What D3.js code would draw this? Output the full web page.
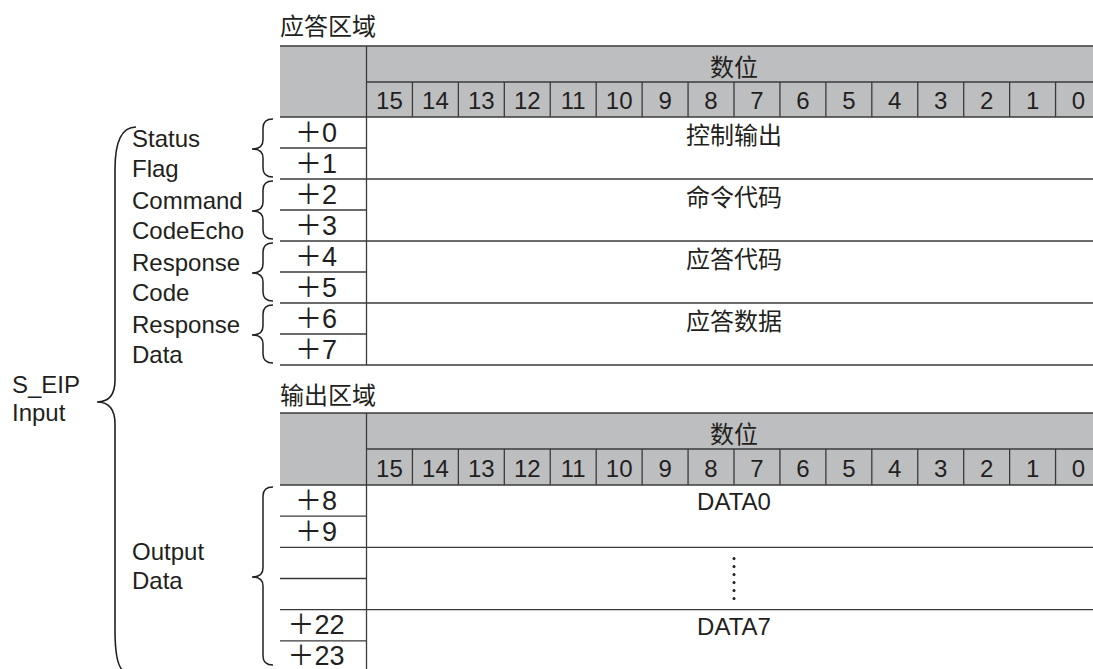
<!DOCTYPE html>
<html>
<head>
<meta charset="utf-8">
<script src="https://cdn.jsdelivr.net/npm/d3@7/dist/d3.min.js"></script>
<style>
  html, body { margin: 0; padding: 0; background: #fff; }
  svg { display: block; }
</style>
</head>
<body>
<svg id="chart" width="1093" height="669"></svg>
<script>
// ---------- data ----------
const bits = [15, 14, 13, 12, 11, 10, 9, 8, 7, 6, 5, 4, 3, 2, 1, 0];
const headerLabel = "数位";
const areaTitles = ["应答区域", "输出区域"];
const respOffsets = ["＋0", "＋1", "＋2", "＋3", "＋4", "＋5", "＋6", "＋7"];
const respFields = ["控制输出", "命令代码", "应答代码", "应答数据"];
const respGroups = [["Status", "Flag"], ["Command", "CodeEcho"], ["Response", "Code"], ["Response", "Data"]];
const outOffsets = ["＋8", "＋9", "", "", "＋22", "＋23"];
const outFields = ["DATA0", "", "DATA7"];
const outGroup = ["Output", "Data"];
const rootLabel = ["S_EIP", "Input"];

// ---------- setup ----------
const svg = d3.select("#chart");
const INK = "#231f20";
const LINE = "#3a3a3a";
const GRAY = "#bdbec0";
const LATIN = "'Liberation Sans', Arial, Helvetica, sans-serif";
const CJK = "'Noto Sans CJK SC', 'Noto Sans CJK JP', sans-serif";
const MIXED = "'Liberation Sans', Arial, 'Noto Sans CJK SC', sans-serif";

const xLeft = 280, xSplit = 366.5, xRight = 1101.5;
const x = d3.scaleBand().domain(bits).range([xSplit, xRight]);
const xMid = (xSplit + xRight) / 2;

function line(g, x1, y1, x2, y2, w) {
  g.append("line").attr("x1", x1).attr("y1", y1).attr("x2", x2).attr("y2", y2)
    .attr("stroke", LINE).attr("stroke-width", w || 1.3);
}

function bracePath(xEnd, xBody, xTip, yTop, yMid, yBot, rEnd, rTip, xEndBot) {
  const xb = xEndBot === undefined ? xEnd : xEndBot;
  return `M${xEnd},${yTop} Q${xBody},${yTop} ${xBody},${yTop + rEnd}` +
    ` L${xBody},${yMid - rTip} Q${xBody},${yMid} ${xTip},${yMid}` +
    ` Q${xBody},${yMid} ${xBody},${yMid + rTip}` +
    ` L${xBody},${yBot - rEnd} Q${xBody},${yBot} ${xb},${yBot}`;
}
function brace(yTop, yMid, yBot) {
  svg.append("path").attr("d", bracePath(273, 263, 252, yTop, yMid, yBot, 9, 9))
    .attr("fill", "none").attr("stroke", INK).attr("stroke-width", 1.5);
}

function drawTable(cfg) {
  const g = svg.append("g");
  // title
  g.append("text").attr("x", xLeft).attr("y", cfg.titleY)
    .attr("dominant-baseline", "central")
    .attr("font-family", CJK).attr("font-size", 24).attr("fill", INK)
    .text(cfg.title);
  // gray header
  g.append("rect").attr("x", xLeft).attr("y", cfg.hTop)
    .attr("width", xRight - xLeft).attr("height", cfg.bTop - cfg.hTop).attr("fill", GRAY);
  // header label
  g.append("text").attr("x", xMid).attr("y", (cfg.hTop + cfg.hMid) / 2 + 1)
    .attr("text-anchor", "middle").attr("dominant-baseline", "central")
    .attr("font-family", CJK).attr("font-size", 24).attr("fill", INK)
    .text(headerLabel);
  // bit numbers
  g.selectAll(".bit").data(bits).join("text")
    .attr("x", d => x(d) + x.bandwidth() / 2)
    .attr("y", (cfg.hMid + cfg.bTop) / 2 + 1)
    .attr("text-anchor", "middle").attr("dominant-baseline", "central")
    .attr("font-family", LATIN).attr("font-size", 24).attr("fill", INK)
    .text(d => d);
  // header lines
  line(g, xLeft, cfg.hTop, xRight, cfg.hTop);
  line(g, xSplit, cfg.hMid, xRight, cfg.hMid);
  bits.forEach((b, i) => { if (i > 0) line(g, x(b), cfg.hMid, x(b), cfg.bTop); });
  line(g, xLeft, cfg.bTop, xRight, cfg.bTop);
  // rows
  const y = cfg.y;
  const n = cfg.offsets.length;
  cfg.offsets.forEach((o, i) => {
    const y0 = y(i), y1 = y(i + 1);
    if (o) {
      g.append("text").attr("x", 316).attr("y", (y0 + y1) / 2)
        .attr("text-anchor", "middle").attr("dominant-baseline", "central")
        .attr("font-family", MIXED).attr("font-size", 27).attr("fill", INK)
        .text(o);
    }
    const full = (i + 1) % 2 === 0;
    line(g, xLeft, y1, full ? xRight : xSplit, y1);
  });
  line(g, xSplit, cfg.hTop, xSplit, y(n));
  // fields
  cfg.fields.forEach((f, k) => {
    const y0 = y(2 * k), y1 = y(2 * k + 1);
    if (f) {
      g.append("text").attr("x", xMid).attr("y", (y0 + y1) / 2 + 1)
        .attr("text-anchor", "middle").attr("dominant-baseline", "central")
        .attr("font-family", /[A-Z]/.test(f) ? LATIN : CJK).attr("font-size", 24)
        .attr("fill", INK).text(f);
    } else {
      const c = y(2 * k + 1);
      g.selectAll(null).data(d3.range(6)).join("circle")
        .attr("cx", xMid).attr("cy", d => c - 20 + d * 8).attr("r", 1.5).attr("fill", INK);
    }
  });
}

// response table
const yResp = d3.scaleLinear().domain([0, 8]).range([117, 365]);
drawTable({ title: areaTitles[0], titleY: 24, hTop: 46, hMid: 82, bTop: 117,
  y: yResp, offsets: respOffsets, fields: respFields });
// output table
const yOut = d3.scaleLinear().domain([0, 6]).range([485, 672]);
drawTable({ title: areaTitles[1], titleY: 393, hTop: 413, hMid: 449, bTop: 485,
  y: yOut, offsets: outOffsets, fields: outFields });

// group labels + braces (response)
respGroups.forEach((lab, k) => {
  const t = yResp(2 * k), b = yResp(2 * k + 2), c = (t + b) / 2;
  svg.append("text").attr("x", 132).attr("y", c - 1)
    .attr("font-family", LATIN).attr("font-size", 24).attr("fill", INK).text(lab[0]);
  svg.append("text").attr("x", 132).attr("y", c + 29)
    .attr("font-family", LATIN).attr("font-size", 24).attr("fill", INK).text(lab[1]);
  brace(t + 2, c + 1, b - 2);
});
// output group
{
  const t = yOut(0), b = yOut(6);
  svg.append("text").attr("x", 132).attr("y", 560)
    .attr("font-family", LATIN).attr("font-size", 24).attr("fill", INK).text(outGroup[0]);
  svg.append("text").attr("x", 132).attr("y", 589)
    .attr("font-family", LATIN).attr("font-size", 24).attr("fill", INK).text(outGroup[1]);
  brace(t + 2, 577, 665);
}
// root label + big brace
svg.append("text").attr("x", 12).attr("y", 393)
  .attr("font-family", LATIN).attr("font-size", 24).attr("fill", INK).text(rootLabel[0]);
svg.append("text").attr("x", 12).attr("y", 421)
  .attr("font-family", LATIN).attr("font-size", 24).attr("fill", INK).text(rootLabel[1]);
svg.append("path")
  .attr("d", bracePath(136, 115, 97, 127, 402, 672, 42, 22, 127))
  .attr("fill", "none").attr("stroke", INK).attr("stroke-width", 1.6);
</script>
</body>
</html>
